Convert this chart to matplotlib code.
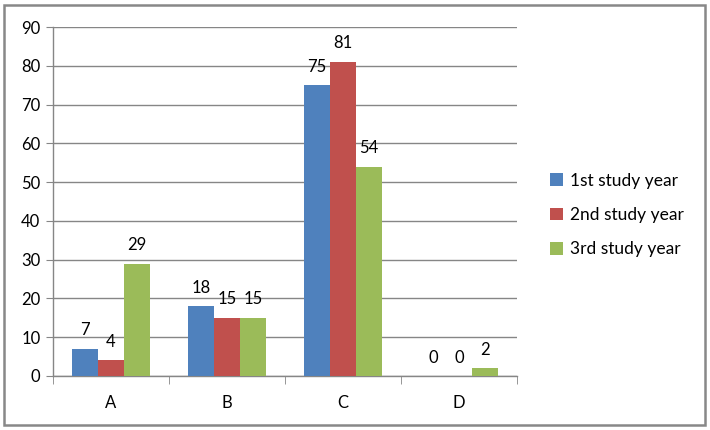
import numpy as np
import matplotlib.pyplot as plt
from matplotlib.patches import Rectangle

categories = ['A', 'B', 'C', 'D']
series_names = ['1st study year', '2nd study year', '3rd study year']
year1 = [7, 18, 75, 0]
year2 = [4, 15, 81, 0]
year3 = [29, 15, 54, 2]
colors = ['#4F81BD', '#C0504D', '#9BBB59']

plt.rcParams['font.family'] = ['Lato', 'DejaVu Sans']

fig = plt.figure(figsize=(7.1, 4.3), dpi=100)
ax = fig.add_axes([53 / 710, 1 - 376 / 430, 464 / 710, 349 / 430])

x = np.arange(len(categories))
width = 0.225
for i, (vals, name) in enumerate(zip([year1, year2, year3], series_names)):
    pos = x + (i - 1) * width
    ax.bar(pos, vals, width, color=colors[i], label=name, zorder=3)
    for p, v in zip(pos, vals):
        ax.annotate(str(v), (p, v), xytext=(0, 7.5), textcoords='offset points',
                    ha='center', va='bottom', fontsize=12, color='black')

ax.set_xlim(-0.5, len(categories) - 0.5)
ax.set_ylim(0, 90)
ax.set_yticks(np.arange(0, 91, 10))
ax.set_xticks(x)
ax.set_xticklabels(categories)
ax.set_xticks(np.arange(-0.5, len(categories), 1), minor=True)
ax.tick_params(axis='x', which='major', length=0, pad=14, labelsize=12)
ax.tick_params(axis='x', which='minor', length=6, color='#868686', direction='out')
ax.tick_params(axis='y', length=5, color='#868686', labelsize=12, pad=4)
ax.grid(axis='y', color='#868686', linewidth=1, zorder=0)
for s in ['top', 'right']:
    ax.spines[s].set_visible(False)
for s in ['left', 'bottom']:
    ax.spines[s].set_color('#868686')
    ax.spines[s].set_linewidth(1)

ax.legend(loc='center left', bbox_to_anchor=(550 / 710, 1 - 215 / 430),
          bbox_transform=fig.transFigure, frameon=False, fontsize=12.5,
          handlelength=0.75, handleheight=0.75, handletextpad=0.4,
          labelspacing=1.05, borderaxespad=0, borderpad=0)

fig.patches.append(Rectangle((4 / 710, 5 / 430), 701 / 710, 420 / 430,
                             transform=fig.transFigure, fill=False,
                             edgecolor='#888888', linewidth=1.8))

fig.savefig('out.png', dpi=100)
